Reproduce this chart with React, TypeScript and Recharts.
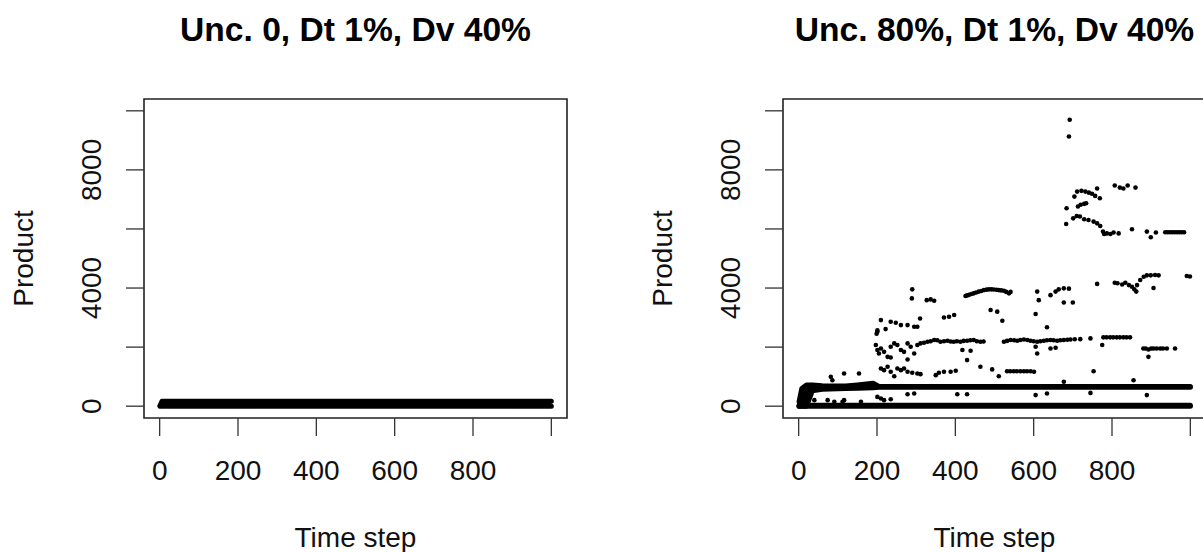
import { Area, ComposedChart, Label, ReferenceArea, Scatter, XAxis, YAxis } from 'recharts';

const FONT = '"Liberation Sans", Arial, Helvetica, sans-serif';

const timeTicks = [0, 200, 400, 600, 800, 1000];
const timeLabels = ['0', '200', '400', '600', '800', ''];
const productTicks = [0, 2000, 4000, 6000, 8000, 10000];
const productLabels = ['0', '', '4000', '', '8000', ''];

// solid bands made of overlapping points: [time step, low, high]
const leftBand = [
  [1, 0, 20],
  [6, 0, 170],
  [1000, 0, 170],
];
const rightBaseBand = [
  [1, 0, 30],
  [1000, 0, 30],
];
const rightUpperBand = [
  [1, 0, 150],
  [8, 0, 600],
  [20, 0, 720],
  [35, 520, 720],
  [60, 570, 690],
  [120, 600, 680],
  [150, 610, 720],
  [190, 620, 780],
  [205, 640, 670],
  [1000, 640, 670],
];

// scattered points of the right panel: [time step, product]
const highPoints = [
  [692, 9695], [690, 9130],
  [704, 7095], [711, 7265], [722, 7290], [732, 7265], [741, 7230], [749, 7190], [757, 7120], [762, 7370], [769, 7040],
  [713, 6760], [720, 6820], [729, 6850], [734, 6870], [684, 6700], [683, 6170],
  [701, 6360], [710, 6440], [718, 6420], [729, 6330], [740, 6305], [753, 6250], [762, 6190], [770, 6100],
  [777, 5910], [780, 5830], [787, 5850], [796, 5830], [804, 5880], [817, 5850],
  [807, 7470], [820, 7400], [829, 7370], [840, 7470], [860, 7400],
  [851, 5990], [889, 5910], [899, 5720], [912, 5880],
  [936, 5890], [942, 5890], [948, 5890], [954, 5890], [960, 5890], [966, 5890], [972, 5890], [978, 5890], [984, 5890],
];
const midPoints = [
  [762, 4140], [807, 4180], [814, 4160], [826, 4120], [834, 4180], [843, 4100], [851, 4045], [857, 3955], [862, 3880],
  [864, 4100], [872, 4270], [881, 4380], [889, 4430], [899, 4430], [906, 4000], [910, 4440], [919, 4430],
  [991, 4410], [999, 4390],
  [290, 3955], [289, 3650], [327, 3590], [337, 3615], [346, 3570],
  [426, 3730], [430, 3750], [435, 3770], [441, 3800], [447, 3820], [453, 3850], [460, 3880], [466, 3900],
  [473, 3930], [480, 3945], [486, 3955], [492, 3955], [498, 3950], [505, 3940], [511, 3930], [517, 3920],
  [524, 3910], [530, 3870], [537, 3820], [541, 3870],
  [490, 3255], [507, 3200], [520, 2890], [371, 3005], [384, 3030], [397, 3085],
  [605, 3120], [609, 3880], [613, 3590],
  [643, 3760], [656, 3880], [664, 3955], [677, 3990], [690, 3980], [677, 3510], [700, 3510], [634, 2670],
  [210, 2915], [235, 2860], [248, 2825], [261, 2745], [278, 2745], [295, 2690], [303, 2690], [310, 2970],
  [201, 2565], [199, 2450], [222, 2610], [201, 2520],
];
const lowPoints = [
  [197, 2070], [201, 1900], [205, 1785], [210, 1955], [218, 1840], [227, 1670], [235, 2010], [244, 2125],
  [252, 2070], [261, 1900], [269, 1840], [278, 2125], [286, 2010], [295, 1785], [303, 2070], [311, 2125],
  [320, 2150], [329, 2180], [337, 2200], [346, 2240], [354, 2230], [362, 2180], [371, 2200], [380, 2215],
  [388, 2190], [396, 2180], [404, 2200], [413, 2180], [421, 2210], [430, 2215], [438, 2230], [447, 2240],
  [455, 2200], [464, 2180], [472, 2190], [418, 1900], [439, 1875], [430, 1560], [278, 1580], [235, 1650],
  [210, 1275], [218, 1220], [227, 1335], [235, 1165], [244, 1015], [252, 1275], [261, 1220], [269, 1275],
  [278, 1165], [290, 1130], [303, 1105], [311, 1085], [350, 1050], [358, 1130], [371, 1165], [388, 1165], [401, 1200],
  [464, 1335], [494, 1245], [511, 1015], [532, 1185], [540, 1185], [549, 1185], [557, 1185], [566, 1185],
  [575, 1185], [583, 1185], [592, 1185], [601, 1165],
  [524, 2180], [532, 2210], [541, 2240], [550, 2230], [558, 2215], [566, 2240], [575, 2260], [584, 2240],
  [592, 2215], [600, 2200], [609, 2180], [617, 2200], [626, 2215], [634, 2230], [643, 2240], [651, 2230],
  [660, 2215], [668, 2230], [677, 2240], [686, 2250], [694, 2260], [705, 2265], [719, 2270],
  [605, 2010], [609, 1785], [643, 1955], [656, 1980], [745, 2295], [775, 2070],
  [778, 2330], [786, 2330], [795, 2330], [803, 2330], [812, 2330], [820, 2330], [829, 2330], [837, 2330], [846, 2330],
  [753, 1185], [880, 1955], [886, 1955], [893, 1920], [900, 1955], [906, 1955], [914, 1955], [923, 1955],
  [930, 1955], [940, 1955], [893, 1670], [961, 1955],
  [677, 825], [855, 880],
  [278, 405], [295, 430], [405, 405], [430, 405], [605, 375], [634, 430], [745, 450], [889, 375],
  [210, 260], [235, 235], [201, 315], [159, 150], [116, 205],
  [82, 995], [86, 880], [116, 1105], [154, 1105], [40, 205], [74, 205], [91, 150], [112, 150], [218, 205],
];

const toBand = (rows: number[][]) => rows.map(([t, lo, hi]) => ({ t, band: [lo, hi] }));
const toPoints = (rows: number[][]) => rows.map(([t, v]) => ({ t, v }));

const W = 600;
const H = 552;
const BOX_LEFT = 144;
const BOX_TOP = 99;
const BOX_RIGHT = 567;
const BOX_BOTTOM = 418;

function TimeTick({ x, payload }: any) {
  const i = timeTicks.indexOf(payload.value);
  return (
    <text x={x} y={480} textAnchor="middle" fontSize={28} fontFamily={FONT} fill="#111">
      {timeLabels[i]}
    </text>
  );
}

function ProductTick({ y, payload }: any) {
  const i = productTicks.indexOf(payload.value);
  return (
    <text x={101} y={y} transform={`rotate(-90 101 ${y})`} textAnchor="middle" fontSize={28} fontFamily={FONT} fill="#111">
      {productLabels[i]}
    </text>
  );
}

const dot = (p: any) => <circle cx={p.cx} cy={p.cy} r={2.3} fill="#000" />;

type PanelProps = {
  left: number;
  title: string;
  bands: number[][][];
  points: number[][];
};

function Panel({ left, title, bands, points }: PanelProps) {
  return (
    <div style={{ position: 'absolute', left, top: 0, width: W, height: H }}>
      <div
        style={{
          position: 'absolute',
          left: BOX_LEFT,
          top: 13,
          width: BOX_RIGHT - BOX_LEFT,
          textAlign: 'center',
          fontFamily: FONT,
          fontWeight: 'bold',
          fontSize: 33.6,
          lineHeight: '34px',
          whiteSpace: 'nowrap',
          color: '#000',
        }}
      >
        {title}
      </div>
      <div style={{ position: 'absolute', left: 0, top: 0 }}>
        <ComposedChart width={W} height={H} margin={{ top: BOX_TOP, right: W - BOX_RIGHT, bottom: 0, left: 0 }}>
          <XAxis
            dataKey="t"
            type="number"
            domain={[-40, 1040]}
            ticks={timeTicks}
            interval={0}
            allowDataOverflow
            height={H - BOX_BOTTOM}
            axisLine={false}
            tickSize={18}
            tickLine={{ stroke: '#333', strokeWidth: 1.3 }}
            tick={<TimeTick />}
          >
            <Label
              content={(p: any) => (
                <text
                  x={p.viewBox.x + p.viewBox.width / 2}
                  y={547}
                  textAnchor="middle"
                  fontSize={28}
                  fontFamily={FONT}
                  fill="#111"
                >
                  Time step
                </text>
              )}
            />
          </XAxis>
          <YAxis
            dataKey="v"
            type="number"
            domain={[-400, 10400]}
            ticks={productTicks}
            interval={0}
            allowDataOverflow
            width={BOX_LEFT}
            axisLine={false}
            tickSize={18}
            tickLine={{ stroke: '#333', strokeWidth: 1.3 }}
            tick={<ProductTick />}
          >
            <Label
              content={(p: any) => {
                const cy = p.viewBox.y + p.viewBox.height / 2;
                return (
                  <text
                    x={33}
                    y={cy}
                    transform={`rotate(-90 33 ${cy})`}
                    textAnchor="middle"
                    fontSize={28}
                    fontFamily={FONT}
                    fill="#111"
                  >
                    Product
                  </text>
                );
              }}
            />
          </YAxis>
          <ReferenceArea
            x1={-40}
            x2={1040}
            y1={-400}
            y2={10400}
            fill="none"
            fillOpacity={0}
            stroke="#222"
            strokeWidth={1.6}
            ifOverflow="visible"
          />
          {bands.map((b, i) => (
            <Area
              key={i}
              data={toBand(b)}
              dataKey="band"
              type="linear"
              fill="#000"
              fillOpacity={1}
              stroke="#000"
              strokeWidth={5}
              strokeLinejoin="round"
              strokeLinecap="round"
              dot={false}
              activeDot={false}
              isAnimationActive={false}
            />
          ))}
          {points.length > 0 && (
            <Scatter data={toPoints(points)} dataKey="v" shape={dot} isAnimationActive={false} />
          )}
        </ComposedChart>
      </div>
    </div>
  );
}

export default function App() {
  return (
    <div style={{ position: 'absolute', left: 0, top: 0, width: 1203, height: 552, overflow: 'hidden', background: '#fff' }}>
      <Panel left={0} title="Unc. 0, Dt 1%, Dv 40%" bands={[leftBand]} points={[]} />
      <Panel
        left={639}
        title="Unc. 80%, Dt 1%, Dv 40%"
        bands={[rightBaseBand, rightUpperBand]}
        points={[...highPoints, ...midPoints, ...lowPoints]}
      />
    </div>
  );
}
